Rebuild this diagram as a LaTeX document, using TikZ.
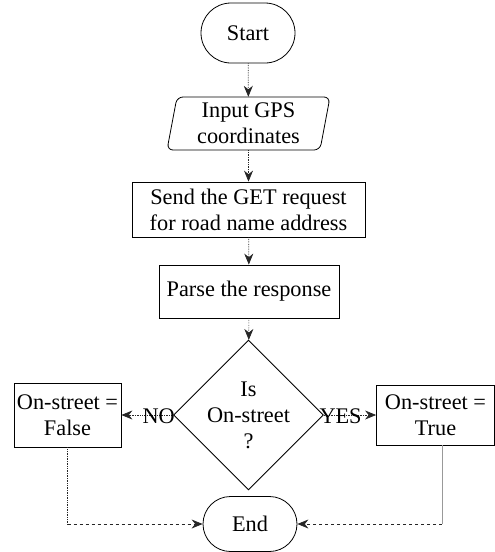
\documentclass[tikz,border=0pt]{standalone}
\usepackage{fontspec}
\setmainfont{Liberation Serif}
\usetikzlibrary{shapes.geometric,shapes.misc,arrows.meta}
\begin{document}
\begin{tikzpicture}[x=1pt,y=-1pt,
  every node/.style={font=\fontsize{22.3}{26}\selectfont, align=center, inner sep=0pt},
  term/.style={draw, rounded rectangle, line width=0.8pt},
  box/.style={draw, rectangle, line width=0.8pt},
  dec/.style={draw, diamond, line width=0.8pt, minimum width=133pt, minimum height=136pt},
  flow/.style={-{Stealth[length=11pt,width=9pt]}, densely dotted, line width=0.7pt, draw=black!85},
  back/.style={-{Stealth[length=11pt,width=9pt]}, dashed, line width=0.7pt, draw=black!85},
  lbl/.style={font=\fontsize{22.3}{26}\selectfont}
]
\useasboundingbox (0,0) rectangle (495,552);
\node[term, minimum width=94pt, minimum height=60pt] (start) at (248,33) {Start};
\node[minimum width=150pt, minimum height=53pt] (input) at (248.5,123.5) {Input GPS\\coordinates};
\draw[line width=0.8pt, rounded corners=6pt] (177,97) -- (330,97) -- (320,150) -- (167,150) -- cycle;
\node[box, minimum width=233pt, minimum height=55pt] (send) at (248.5,209.5) {Send the GET request\\for road name address};
\node[box, minimum width=180pt, minimum height=53pt] (parse) at (249,291.5) {Parse the response};
\node[dec] (dec) at (248.5,415) {Is\\On-street\\?};
\node[box, minimum width=107pt, minimum height=64pt] (false) at (67.5,415) {On-street =\\False};
\node[box, minimum width=118pt, minimum height=60pt] (true) at (435.5,415) {On-street =\\True};
\node[term, minimum width=94pt, minimum height=55pt] (end) at (250,524) {End};
\coordinate (fc) at (false.south |- end.west);
\coordinate (tc) at (442,524);
\draw[flow] (start) -- (input);
\draw[flow] (input) -- (send);
\draw[flow] (send) -- (parse);
\draw[flow] (parse) -- (dec);
\draw[flow] (dec.west) -- node[lbl, above=-9pt, pos=0.28] (no) {NO} (false.east);
\draw[flow] (dec.east) -- node[lbl, above=-9pt, pos=0.32] (yes) {YES} (true.west);
\draw[densely dotted, line width=0.7pt, draw=black!85] (false.south) -- (fc);
\draw[back] (fc) -- (end.west);
\draw[line width=0.7pt, draw=black!40] (true.south -| tc) -- (tc);
\draw[back] (tc) -- (end.east);
\end{tikzpicture}
\end{document}
